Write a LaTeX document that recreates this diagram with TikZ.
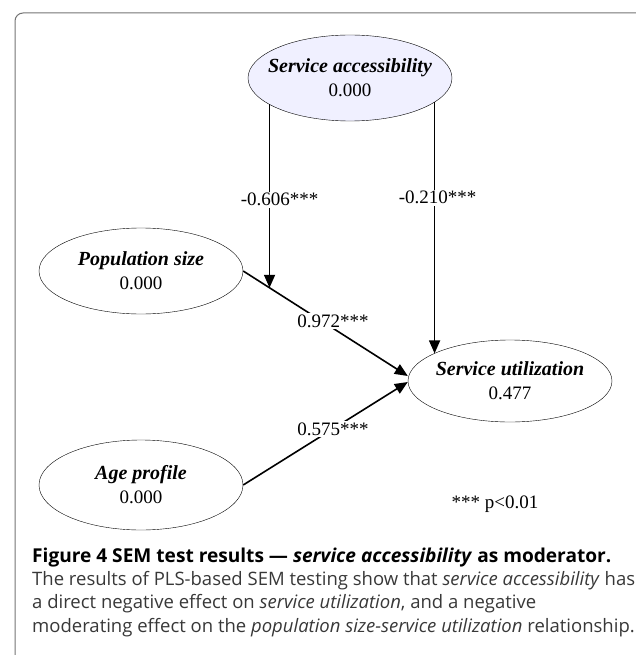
\documentclass[tikz,border=0pt]{standalone}
\usepackage{fontspec}
\setmainfont{Liberation Serif}
\newfontfamily\capfont{Open Sans}
\usetikzlibrary{shapes.geometric,arrows.meta}

\begin{document}
\begin{tikzpicture}[x=1pt,y=-1pt,
    latent/.style={draw,ellipse,minimum width=204pt,minimum height=86pt,inner xsep=-10pt,inner ysep=0pt,
      align=center,font=\fontsize{19}{24}\selectfont},
    coef/.style={fill=white,inner sep=1.5pt,font=\fontsize{19}{22}\selectfont},
    effect/.style={line width=1.6pt,-{Triangle[length=13pt,width=11pt]}},
    capline/.style={anchor=base west,inner sep=0pt,font=\capfont\fontsize{18.5}{22}\selectfont}]
  \useasboundingbox (0,0) rectangle (636,655);
  \draw[black!55,line width=1pt,rounded corners=8pt] (636,13) -- (15,13) -- (15,660);

  \newcommand{\lvname}[1]{{\fontsize{20}{24}\selectfont\textbf{\textit{#1}}}}
  \node[latent,fill=blue!6] (sa) at (350,78) {\lvname{Service accessibility}\\0.000};
  \node[latent] (pop) at (141,271) {\lvname{Population size}\\0.000};
  \node[latent,minimum height=82pt] (util) at (510,381) {\lvname{Service utilization}\\0.477};
  \node[latent,minimum height=90pt] (age) at (141,485) {\lvname{Age profile}\\0.000};

  \draw[effect] (pop.east) -- coordinate[pos=0.16] (mod)
    node[coef,pos=0.545,yshift=7pt] (c3) {0.972***} ([yshift=5pt]util.west);
  \draw[effect] (age.east) -- node[coef,pos=0.545] (c4) {0.575***} ([yshift=-1pt]util.west);
  \draw[effect] (mod |- sa.198) -- node[coef,pos=0.52,xshift=10pt] (c1) {-0.606***} (mod);
  \draw[effect] (sa.344) -- node[coef,pos=0.38,xshift=3pt] (c2) {-0.210***} (sa.344 |- util.160);

  \node[coef,fill=none] (note) at (495,504) {*** p<0.01};

  \node[capline,font=\capfont\fontsize{19.1}{22}\selectfont] (cap1) at (32,562)
    {\bfseries Figure 4 SEM test results \textemdash\ \textit{service accessibility} as moderator.};
  \begin{scope}[every node/.append style={text=black!78}]
    \node[capline] (cap2) at (32,585) {The results of PLS-based SEM testing show that \textit{service accessibility} has};
    \node[capline] (cap3) at (32,608) {a direct negative effect on \textit{service utilization}, and a negative};
    \node[capline] (cap4) at (32,632) {moderating effect on the \textit{population size-service utilization} relationship.};
  \end{scope}
\end{tikzpicture}
\end{document}
